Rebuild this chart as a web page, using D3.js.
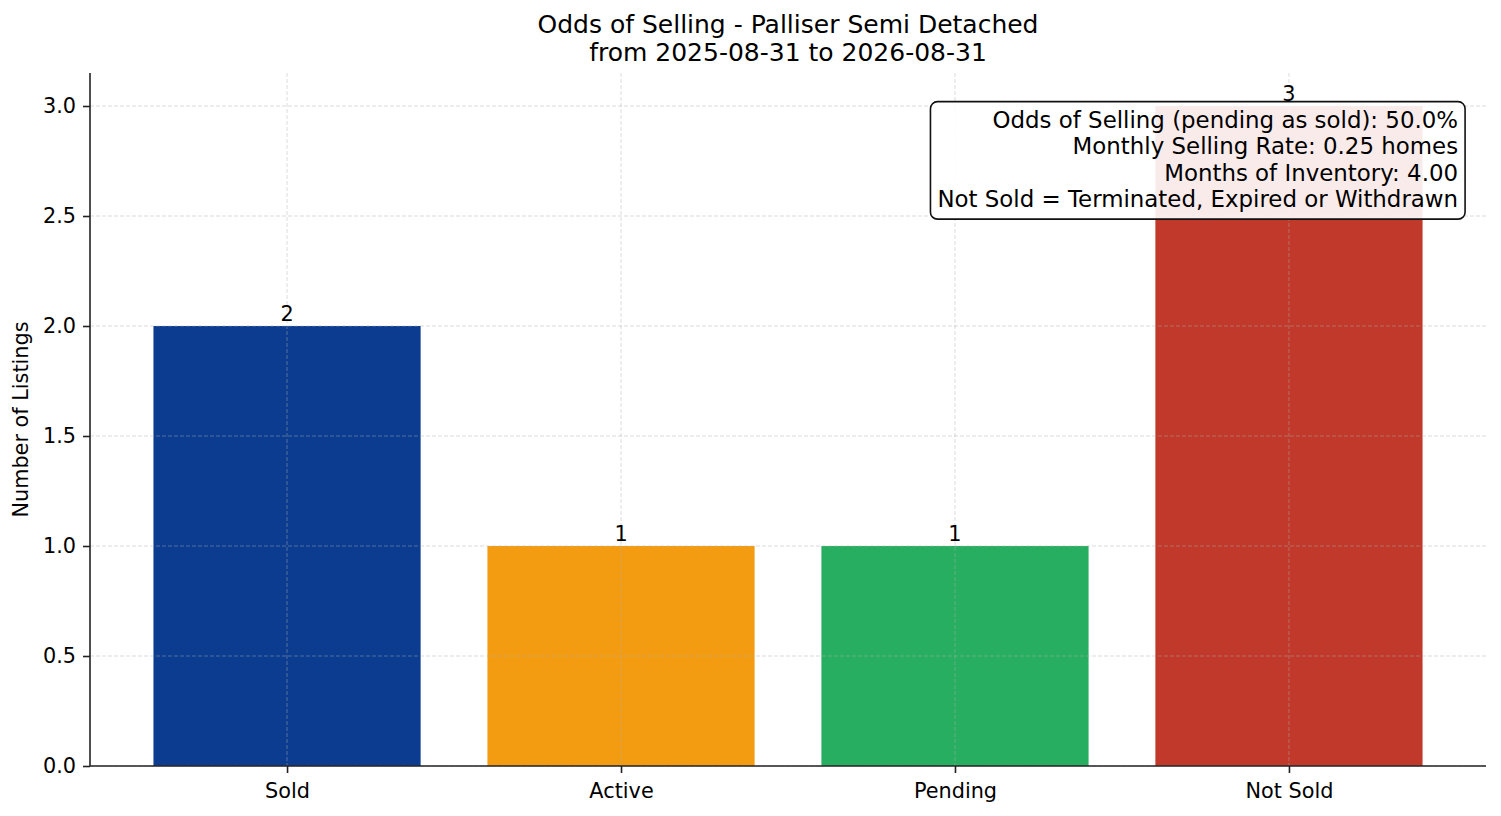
<!DOCTYPE html>
<html>
<head>
<meta charset="utf-8">
<script src="https://cdn.jsdelivr.net/npm/d3@7"></script>
<style>
  body { margin: 0; background: #fff; }
  text { font-family: "DejaVu Sans", sans-serif; fill: #000; }
</style>
</head>
<body>
<div id="chart"></div>
<script>
const categories = ["Sold", "Active", "Pending", "Not Sold"]
const counts = [2, 1, 1, 3]
const barColors = ["#0b3c8f", "#f39c12", "#27ae60", "#c0392b"]
const yTicks = [0, 0.5, 1.0, 1.5, 2.0, 2.5, 3.0]
const titleLines = ["Odds of Selling - Palliser Semi Detached", "from 2025-08-31 to 2026-08-31"]
const infoLines = [
    "Odds of Selling (pending as sold): 50.0%",
    "Monthly Selling Rate: 0.25 homes",
    "Months of Inventory: 4.00",
    "Not Sold = Terminated, Expired or Withdrawn"
]

let W = 1501, H = 816
let margin = {top: 73, right: 15, bottom: 50, left: 90}
let width = W - margin.left - margin.right
let height = H - margin.top - margin.bottom

let svg = d3.select("#chart")
    .append("svg")
    .attr("width", W)
    .attr("height", H)

let g = svg.append("g")
    .attr("transform", "translate(" + margin.left + "," + margin.top + ")")

// matplotlib style x-limits: bars of width 0.8, 5% margin
let xScale = d3.scaleLinear()
    .domain([-0.59, categories.length - 1 + 0.59])
    .range([0, width])

let yScale = d3.scaleLinear()
    .domain([0, 3.15])
    .range([height, 0])

let barW = xScale(0.8) - xScale(0)

g.selectAll(".bar")
    .data(categories)
    .enter()
    .append("rect")
    .attr("class", "bar")
    .attr("x", (d, i) => xScale(i) - barW / 2)
    .attr("y", (d, i) => yScale(counts[i]))
    .attr("width", barW)
    .attr("height", (d, i) => yScale(0) - yScale(counts[i]))
    .attr("fill", (d, i) => barColors[i])

// grid on top of bars
g.selectAll(".hgrid")
    .data(yTicks)
    .enter()
    .append("line")
    .attr("x1", 0)
    .attr("x2", width)
    .attr("y1", d => yScale(d))
    .attr("y2", d => yScale(d))
    .attr("stroke", "#b0b0b0")
    .attr("stroke-opacity", 0.45)
    .attr("stroke-width", 1)
    .attr("stroke-dasharray", "4,2")

g.selectAll(".vgrid")
    .data(categories)
    .enter()
    .append("line")
    .attr("x1", (d, i) => xScale(i))
    .attr("x2", (d, i) => xScale(i))
    .attr("y1", 0)
    .attr("y2", height)
    .attr("stroke", "#b0b0b0")
    .attr("stroke-opacity", 0.45)
    .attr("stroke-width", 1)
    .attr("stroke-dasharray", "4,2")

// axes
let yAxis = g.append("g")
    .call(d3.axisLeft(yScale).tickValues(yTicks).tickFormat(d3.format(".1f")).tickSize(7).tickPadding(7))
let xAxis = g.append("g")
    .attr("transform", "translate(0," + height + ")")
    .call(d3.axisBottom(xScale).tickValues(d3.range(categories.length)).tickFormat(i => categories[i]).tickSize(7).tickPadding(10))

for (let ax of [yAxis, xAxis]) {
    ax.selectAll("text").style("font-size", "20.8px").style("font-family", "DejaVu Sans")
    ax.selectAll("line").attr("stroke", "#222").attr("stroke-width", 1.6)
    ax.select(".domain").attr("stroke", "#222").attr("stroke-width", 1.6)
}
// no end caps on spines (matplotlib)
yAxis.select(".domain").attr("d", "M0," + height + "V0")
xAxis.select(".domain").attr("d", "M0,0H" + width)

// bar value labels
g.selectAll(".val")
    .data(categories)
    .enter()
    .append("text")
    .attr("x", (d, i) => xScale(i))
    .attr("y", (d, i) => yScale(counts[i]) - 5)
    .attr("text-anchor", "middle")
    .style("font-size", "20.8px")
    .text((d, i) => counts[i])

// y label
g.append("text")
    .attr("transform", "rotate(-90)")
    .attr("x", -height / 2)
    .attr("y", -62)
    .attr("text-anchor", "middle")
    .style("font-size", "20.8px")
    .text("Number of Listings")

// title
svg.append("text")
    .attr("x", margin.left + width / 2)
    .attr("y", 33)
    .attr("text-anchor", "middle")
    .style("font-size", "25px")
    .selectAll("tspan")
    .data(titleLines)
    .enter()
    .append("tspan")
    .attr("x", margin.left + width / 2)
    .attr("dy", (d, i) => i == 0 ? 0 : 28)
    .text(d => d)

// info box
let tx = width * 0.98
let ty = height * 0.05
let info = g.append("g")
let box = info.append("rect")
let infoText = info.append("text")
    .attr("text-anchor", "end")
    .style("font-size", "22.9px")
infoText.selectAll("tspan")
    .data(infoLines)
    .enter()
    .append("tspan")
    .attr("x", tx)
    .attr("y", (d, i) => ty + 20 + i * 26.5)
    .text(d => d)

let bb = infoText.node().getBBox()
box.attr("x", bb.x - 7)
    .attr("y", ty - 6)
    .attr("width", bb.width + 14)
    .attr("height", (ty + 20 + 3 * 26.5 + 12) - (ty - 6))
    .attr("rx", 7)
    .attr("fill", "#fff")
    .attr("fill-opacity", 0.9)
    .attr("stroke", "#111")
    .attr("stroke-width", 1.6)
</script>
</body>
</html>
